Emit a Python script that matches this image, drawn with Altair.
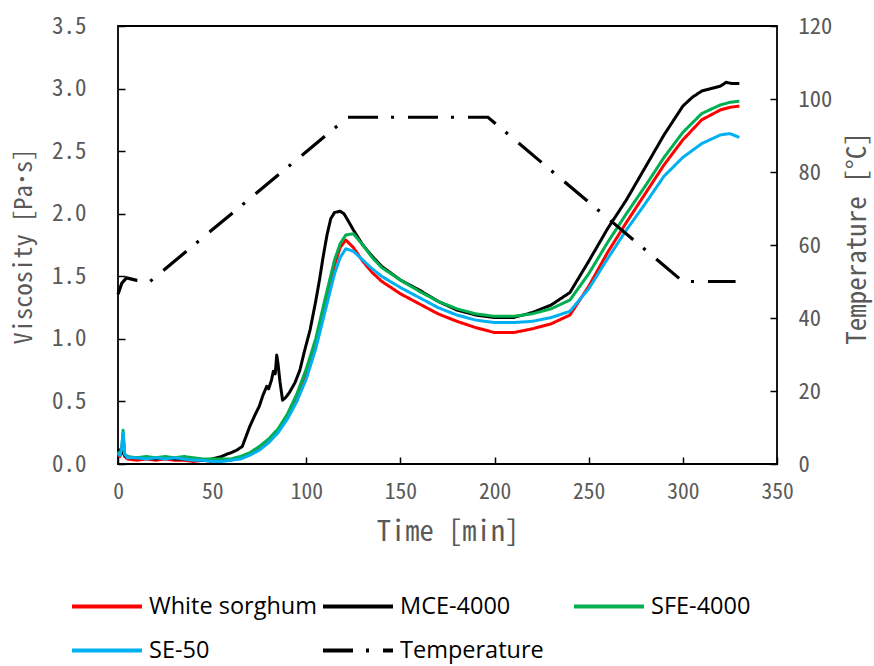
import altair as alt
import pandas as pd

# ---------------- data ----------------
SERIES = ["White sorghum", "MCE-4000", "SFE-4000", "SE-50", "Temperature"]
COLORS = ["#FF0000", "#000000", "#00B050", "#00B0F0", "#000000"]
DASHES = [[1, 0], [1, 0], [1, 0], [1, 0], [30, 13, 3, 14]]

TIME = [0, 1, 2, 2.7, 3.5, 5,
        10, 15, 20, 25, 30, 35, 40, 45, 50, 55,
        60, 65, 70, 75, 80, 85, 90, 95, 100, 105, 110, 115,
        118, 121, 125, 130, 135, 140,
        150, 160, 170, 180, 190, 200, 210, 220, 230, 240, 250, 260, 270, 280, 290, 300, 310, 320, 325, 330]

WHITE_SORGHUM = [0.08, 0.06, 0.10, 0.22, 0.06, 0.04,
                 0.03, 0.04, 0.03, 0.04, 0.03, 0.03, 0.02, 0.03, 0.02, 0.03,
                 0.03, 0.05, 0.08, 0.13, 0.19, 0.27, 0.38, 0.53, 0.72, 0.96, 1.27, 1.59,
                 1.73, 1.79, 1.73, 1.62, 1.53, 1.46,
                 1.36, 1.28, 1.20, 1.14, 1.09, 1.05, 1.05, 1.08, 1.12, 1.19, 1.42, 1.69, 1.93, 2.16, 2.39, 2.59, 2.75, 2.83, 2.85, 2.86]

SFE_4000 = [0.10, 0.07, 0.12, 0.27, 0.08, 0.06,
            0.05, 0.06, 0.05, 0.06, 0.05, 0.06, 0.05, 0.04, 0.04, 0.04,
            0.04, 0.06, 0.09, 0.14, 0.20, 0.28, 0.40, 0.56, 0.76, 1.00, 1.32, 1.63,
            1.76, 1.83, 1.84, 1.75, 1.65, 1.57,
            1.47, 1.38, 1.30, 1.24, 1.20, 1.18, 1.18, 1.20, 1.24, 1.31, 1.52, 1.77, 2.00, 2.22, 2.45, 2.65, 2.80, 2.87, 2.89, 2.90]

SE_50 = [0.09, 0.07, 0.14, 0.25, 0.08, 0.05,
         0.05, 0.04, 0.05, 0.04, 0.05, 0.04, 0.03, 0.03, 0.02, 0.02,
         0.03, 0.04, 0.07, 0.11, 0.17, 0.25, 0.36, 0.50, 0.68, 0.92, 1.22, 1.52,
         1.65, 1.72, 1.70, 1.63, 1.56, 1.50,
         1.41, 1.33, 1.25, 1.19, 1.15, 1.13, 1.13, 1.14, 1.17, 1.22, 1.40, 1.64, 1.87, 2.08, 2.30, 2.45, 2.56, 2.63, 2.64, 2.61]

TIME_MCE = [0, 1, 2, 3, 4, 6, 10, 15, 20, 25, 30, 35, 40, 45, 50,
            55, 58, 60, 63, 66, 68, 70, 73, 75, 77, 79, 80,
            81.5, 82.5, 83.5, 84.3, 85, 86, 87.4, 89, 91, 94, 96.6, 99,
            102, 105, 107, 109, 111, 113, 115, 118, 120, 122, 125, 130, 135, 140,
            150, 160, 170, 180, 190, 200, 210, 220, 230, 240, 250, 260, 270, 280, 290,
            300, 305, 310, 315, 320, 323, 326, 330]

MCE_4000 = [0.12, 0.10, 0.12, 0.08, 0.06, 0.05, 0.05, 0.05, 0.04, 0.05, 0.04, 0.04, 0.04, 0.03, 0.04,
            0.06, 0.08, 0.09, 0.11, 0.14, 0.22, 0.30, 0.40, 0.46, 0.55, 0.62, 0.60,
            0.67, 0.74, 0.72, 0.87, 0.80, 0.66, 0.51, 0.53, 0.57, 0.65, 0.75, 0.90,
            1.07, 1.30, 1.47, 1.66, 1.83, 1.96, 2.01, 2.02, 2.00, 1.95, 1.87, 1.75, 1.66, 1.58,
            1.47, 1.39, 1.30, 1.23, 1.19, 1.17, 1.17, 1.21, 1.27, 1.37, 1.62, 1.88, 2.11, 2.37, 2.63,
            2.86, 2.93, 2.98, 3.00, 3.02, 3.05, 3.04, 3.04]

TIME_TEMP = [0, 2, 4.5, 10, 17, 122, 196.5, 300, 328]
TEMPERATURE = [46.5, 49.5, 51, 50.3, 50, 95, 95, 50, 50]

X_TICKS = [0, 50, 100, 150, 200, 250, 300, 350]
Y_TICKS = [0, 0.5, 1.0, 1.5, 2.0, 2.5, 3.0, 3.5]
T_TICKS = [0, 20, 40, 60, 80, 100, 120]

assert len(TIME) == len(WHITE_SORGHUM) == len(SFE_4000) == len(SE_50)
assert len(TIME_MCE) == len(MCE_4000)

visc_sets = [
    ("White sorghum", TIME, WHITE_SORGHUM),
    ("MCE-4000", TIME_MCE, MCE_4000),
    ("SFE-4000", TIME, SFE_4000),
    ("SE-50", TIME, SE_50),
]

MONO = "Noto Sans Mono CJK JP, DejaVu Sans Mono, monospace"
GREY = "#595959"

legend = alt.Legend(
    title=None, orient="none", legendX=-30.5, legendY=561, columns=3, direction="horizontal",
    gridAlign="all",
    symbolType="M-2,0H2", symbolSize=1225, symbolStrokeWidth=4,
    labelFont="Open Sans", labelFontSize=23.5, labelColor="black", labelOffset=22.5,
    labelLimit=400, columnPadding=-3, rowPadding=13, padding=0,
)
color = alt.Color("series:N", scale=alt.Scale(domain=SERIES, range=COLORS), legend=legend)
dash = alt.StrokeDash("series:N", scale=alt.Scale(domain=SERIES, range=DASHES), legend=legend)

x_enc = alt.X(
    "time:Q", scale=alt.Scale(domain=[0, 350], nice=False),
    axis=alt.Axis(values=X_TICKS, offset=-7, labelPadding=34.5, labelBaseline="alphabetic",
                  labelFlush=False,
                  labelFontSize=21.5, title="Time [min]", titleFontSize=28.5,
                  titleBaseline="alphabetic", titleY=83),
)
y_enc = alt.Y(
    "value:Q", scale=alt.Scale(domain=[0, 3.5], nice=False),
    axis=alt.Axis(orient="left", values=Y_TICKS, format=".1f", offset=-7, labelPadding=32,
                  labelFlush=False,
                  labelFontSize=23, title="Viscosity [Pa･s]", titleFontSize=24.5,
                  titleAngle=270, titleBaseline="middle", titleX=-101, titleY=220),
)

visc_layers = []
for name, t, v in visc_sets:
    df = pd.DataFrame({"time": t, "value": v, "series": name})
    visc_layers.append(
        alt.Chart(df).mark_line(strokeWidth=3, strokeJoin="round").encode(
            x=x_enc, y=y_enc, color=color, strokeDash=dash
        )
    )
visc = alt.layer(*visc_layers)

df_temp = pd.DataFrame({"time": TIME_TEMP, "temp": TEMPERATURE, "series": "Temperature"})
temp = alt.Chart(df_temp).mark_line(strokeWidth=3.2).encode(
    x=x_enc,
    y=alt.Y("temp:Q", scale=alt.Scale(domain=[0, 120], nice=False),
            axis=alt.Axis(orient="right", values=T_TICKS, offset=-7, labelPadding=21,
                          labelFlush=False,
                          labelFontSize=22.5, title="Temperature [°C]", titleFontSize=27,
                          titleAngle=270, titleBaseline="middle", titleX=87, titleY=212)),
    color=color, strokeDash=dash,
)

chart = alt.layer(visc, temp).resolve_scale(y="independent").properties(
    width=659, height=438,
    padding={"left": 118, "top": 26, "right": 97, "bottom": 202},
    autosize=alt.AutoSizeParams(type="none"),
).configure_view(
    stroke="black", strokeWidth=1.8
).configure_axis(
    grid=False, domain=False, tickColor="black", tickWidth=1.5, tickSize=7,
    labelColor=GREY, titleColor=GREY, labelFont=MONO, titleFont=MONO,
    titleFontWeight="normal",
)

chart.save("out.html", embed_options={"renderer": "svg", "actions": False})
